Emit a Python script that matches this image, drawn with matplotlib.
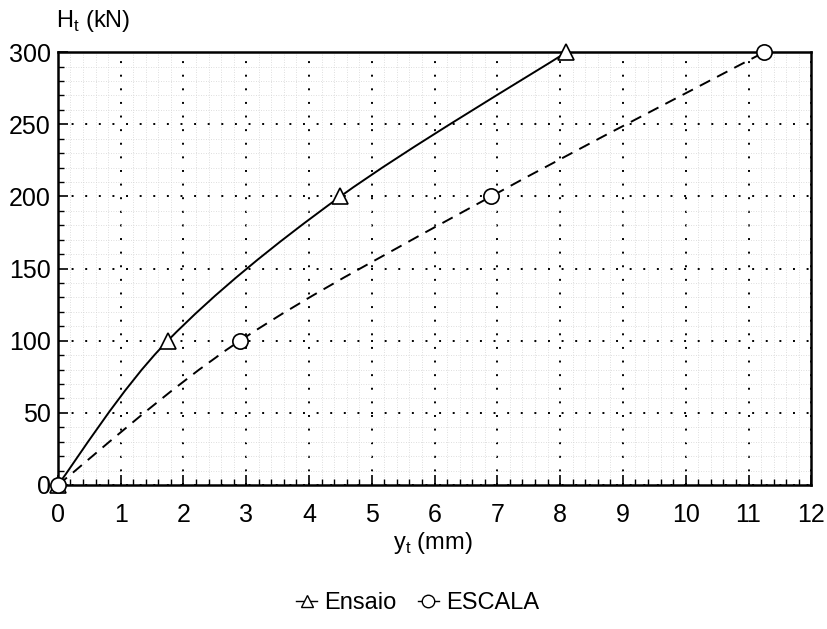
import numpy as np
import matplotlib
matplotlib.use("Agg")
import matplotlib.pyplot as plt
from matplotlib.path import Path
from matplotlib.patches import PathPatch
from matplotlib.ticker import MultipleLocator

plt.rcParams['font.family'] = ['Liberation Sans', 'DejaVu Sans']

# data
H = [0, 100, 200, 300]
y_ensaio = [0, 1.75, 4.5, 8.1]
y_escala = [0, 2.9, 6.9, 11.25]


def smooth_path(xs, ys):
    # Catmull-Rom curve through the points, drawn as cubic Bezier segments
    p = np.column_stack([xs, ys]).astype(float)
    verts = [p[0]]
    codes = [Path.MOVETO]
    for i in range(len(p) - 1):
        p0 = p[i - 1] if i > 0 else p[i]
        p3 = p[i + 2] if i + 2 < len(p) else p[i + 1]
        c1 = p[i] + (p[i + 1] - p0) / 6
        c2 = p[i + 1] - (p3 - p[i]) / 6
        verts += [c1, c2, p[i + 1]]
        codes += [Path.CURVE4] * 3
    return Path(verts, codes)


fig = plt.figure(figsize=(8.27, 6.29), dpi=100)
ax = fig.add_axes([0.070, 0.229, 0.911, 0.688])

ax.set_xlim(0, 12)
ax.set_ylim(0, 300)

# faint background mesh
ax.grid(True, which='minor', color='#d4d4d4', linestyle=(0, (1, 2)), linewidth=0.6)
ax.grid(True, which='major', color='black', linestyle=(0, (1, 6)), linewidth=1.4)

ax.add_patch(PathPatch(smooth_path(y_ensaio, H), fill=False, color='black', lw=1.4, zorder=3))
ax.add_patch(PathPatch(smooth_path(y_escala, H), fill=False, color='black', lw=1.4,
                       linestyle=(0, (6, 4)), zorder=3))

ax.plot(y_ensaio, H, linestyle='none', marker='^', markersize=11, mfc='white',
        mec='black', mew=1.2, zorder=4, clip_on=False)
ax.plot(y_escala, H, linestyle='none', marker='o', markersize=11, mfc='white',
        mec='black', mew=1.2, zorder=4, clip_on=False)

ax.xaxis.set_major_locator(MultipleLocator(1))
ax.xaxis.set_minor_locator(MultipleLocator(0.2))
ax.yaxis.set_major_locator(MultipleLocator(50))
ax.yaxis.set_minor_locator(MultipleLocator(10))
ax.tick_params(which='both', direction='in', labelsize=18, color='black')
ax.tick_params(which='major', length=7, width=1.2)
ax.tick_params(which='minor', length=4, width=1)
ax.tick_params(axis='x', pad=13)
ax.tick_params(axis='y', pad=5)

for s in ax.spines.values():
    s.set_linewidth(1.8)

fig.text(0.068, 0.967, r'H$_\mathregular{t}$ (kN)', fontsize=17, ha='left', va='center')
fig.text(0.523, 0.137, r'y$_\mathregular{t}$ (mm)', fontsize=17, ha='center', va='center')

h1, = ax.plot([], [], color='black', lw=1.0, marker='^', markersize=9, mfc='white', mec='black')
h2, = ax.plot([], [], color='black', lw=1.0, marker='o', markersize=9, mfc='white', mec='black')
fig.legend([h1, h2], ['Ensaio', 'ESCALA'], loc='center', bbox_to_anchor=(0.505, 0.041),
           ncol=2, frameon=False, fontsize=17, handlelength=0.9, handletextpad=0.3,
           columnspacing=0.9)

fig.savefig('out.png', dpi=100)
